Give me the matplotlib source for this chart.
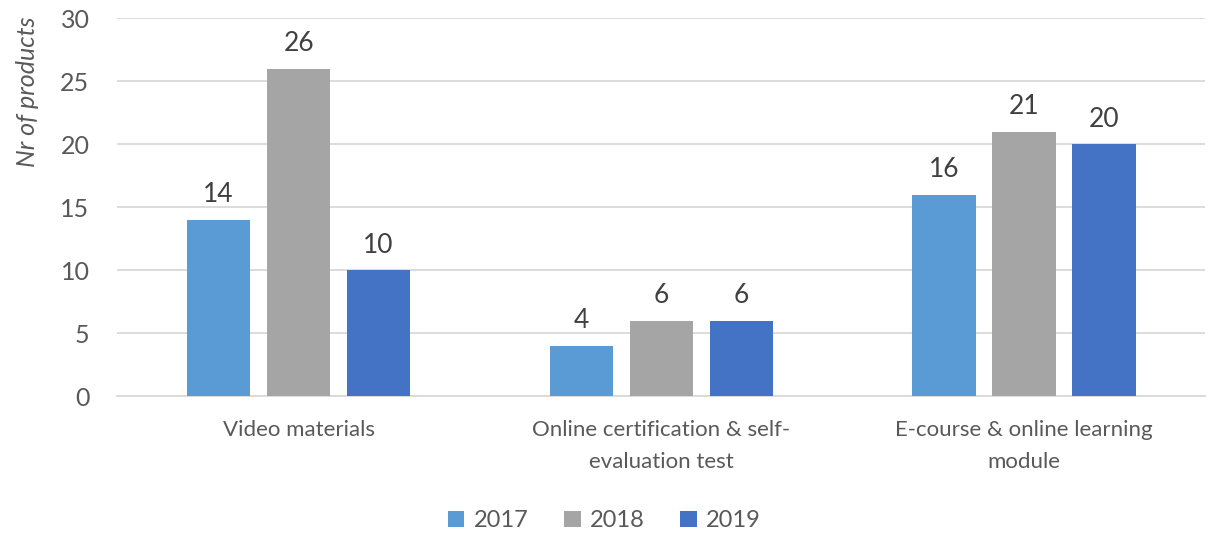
import matplotlib

matplotlib.use("Agg")
import matplotlib.pyplot as plt
import numpy as np

plt.rcParams["font.family"] = ["Lato", "DejaVu Sans"]

categories = ["Video materials",
              "Online certification & self-\nevaluation test",
              "E-course & online learning\nmodule"]
years = ["2017", "2018", "2019"]
values_2017 = [14, 4, 16]
values_2018 = [26, 6, 21]
values_2019 = [10, 6, 20]
yticks = [0, 5, 10, 15, 20, 25, 30]

COLORS = ["#5B9BD5", "#A5A5A5", "#4472C4"]
GRID = "#D9D9D9"
TEXT = "#595959"

fig = plt.figure(figsize=(12.09, 5.34), dpi=100)
ax = fig.add_axes([0.097, 0.258, 0.900, 0.708])

x = np.arange(len(categories))
step = 0.2206
width = 0.174
series = [values_2017, values_2018, values_2019]
for i, (year, vals) in enumerate(zip(years, series)):
    pos = x + (i - 1) * step
    bars = ax.bar(pos, vals, width=width, color=COLORS[i], label=year, zorder=3)
    for b, v in zip(bars, vals):
        ax.annotate(str(v), xy=(b.get_x() + b.get_width() / 2, v),
                    xytext=(0, 9), textcoords="offset points",
                    ha="center", va="bottom", fontsize=19, color="#404040")

ax.set_xlim(-0.5, len(categories) - 0.5)
ax.set_ylim(0, 30)
ax.set_yticks(yticks)
ax.set_xticks(x)
ax.set_xticklabels(categories, fontsize=16, color=TEXT, linespacing=1.75)
ax.tick_params(axis="y", length=0, labelsize=18, labelcolor=TEXT, pad=20)
ax.tick_params(axis="x", length=0, pad=17)
ax.yaxis.grid(True, color=GRID, linewidth=1.3, zorder=0)
for s in ("top", "right", "left"):
    ax.spines[s].set_visible(False)
ax.spines["bottom"].set_color(GRID)
ax.spines["bottom"].set_linewidth(1.3)

ax.set_ylabel("Nr of products", fontsize=18, style="italic", color=TEXT)
ax.yaxis.set_label_coords(-0.072, 0.805)

fig.legend(loc="lower center", bbox_to_anchor=(0.5, -0.035), ncol=3, frameon=False,
           fontsize=17, handlelength=0.7, handleheight=0.7, handletextpad=0.4,
           columnspacing=1.5, labelcolor=TEXT)

fig.savefig("out.png", dpi=100)
